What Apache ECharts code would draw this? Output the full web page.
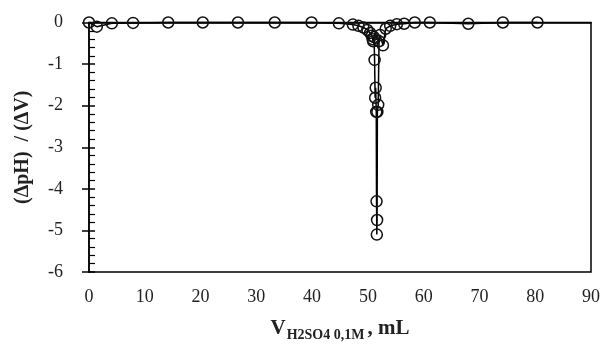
<!DOCTYPE html>
<html>
<head>
<meta charset="utf-8">
<script src="https://cdn.jsdelivr.net/npm/echarts@6/dist/echarts.min.js"></script>
<style>html,body{margin:0;padding:0;background:#fff;}#c{width:608px;height:347px;}</style>
</head>
<body>
<div id="c"></div>
<script>
const volume = [0, 1.4, 4.1, 7.9, 14.2, 20.4, 26.7, 33.3, 39.9, 44.8, 47.3, 48.3, 49.2, 49.9, 50.4, 50.7, 50.85, 50.95, 51.1, 51.2, 51.3, 51.4, 51.5, 51.55, 51.6, 51.65, 51.7, 51.85, 52.0, 52.2, 52.7, 53.2, 54.0, 55.2, 56.5, 58.4, 61.1, 68.0, 74.2, 80.4];
const dpHdV = [0, -0.1, -0.02, -0.01, 0, 0, 0, 0, 0, -0.02, -0.05, -0.08, -0.12, -0.18, -0.25, -0.32, -0.4, -0.45, -0.35, -0.9, -1.81, -1.57, -2.15, -4.3, -5.1, -4.75, -2.15, -1.98, -0.45, -0.3, -0.55, -0.15, -0.08, -0.04, -0.03, 0, 0, -0.03, 0, 0];
const xTicks = [0, 10, 20, 30, 40, 50, 60, 70, 80, 90];
const yTicks = [-6, -5, -4, -3, -2, -1, 0];

const chart = echarts.init(document.getElementById('c'));
const font = 'Liberation Serif';
chart.setOption({
  animation: false,
  grid: { left: 89, right: 17, top: 22.5, bottom: 74.5, show: true, borderColor: '#000', borderWidth: 1.5, backgroundColor: 'transparent' },
  xAxis: {
    type: 'value', min: xTicks[0], max: xTicks[xTicks.length - 1], interval: 10,
    axisLine: { show: true, lineStyle: { color: '#000', width: 1.5 } },
    axisTick: { show: false },
    splitLine: { show: false },
    axisLabel: { fontFamily: font, fontSize: 18, color: '#222', margin: 16 },
    name: '{a|V}{b|H2SO4 0,1M}{a|, mL}',
    nameLocation: 'middle', nameGap: 46,
    nameTextStyle: {
      rich: {
        a: { fontFamily: font, fontSize: 21, fontWeight: 'bold', color: '#222', verticalAlign: 'bottom' },
        b: { fontFamily: font, fontSize: 14, fontWeight: 'bold', color: '#222', verticalAlign: 'bottom', padding: [0, 3, -3, 1] }
      }
    }
  },
  yAxis: [{
    type: 'value', min: yTicks[0], max: yTicks[yTicks.length - 1], interval: 1,
    axisLine: { show: true, lineStyle: { color: '#000', width: 1.5 } },
    axisTick: { show: true, inside: true, length: 6, lineStyle: { color: '#000', width: 1.5 } },
    minorTick: { show: true, splitNumber: 5, length: 6, lineStyle: { color: '#000', width: 1.2 } },
    splitLine: { show: false },
    axisLabel: { fontFamily: font, fontSize: 18, color: '#222', margin: 26 },
    name: '(ΔpH)  / (ΔV)', nameLocation: 'middle', nameGap: 56, nameRotate: 90,
    nameTextStyle: { fontFamily: font, fontSize: 20, fontWeight: 'bold', color: '#222' }
  }, {
    type: 'value', min: yTicks[0], max: yTicks[yTicks.length - 1], interval: 1, position: 'left',
    axisLine: { show: false },
    axisTick: { show: true, inside: false, length: 7, lineStyle: { color: '#000', width: 1.5 } },
    axisLabel: { show: false },
    splitLine: { show: false }
  }],
  series: [{
    type: 'line',
    data: volume.map((v, i) => [v, dpHdV[i]]),
    yAxisIndex: 0,
    clip: false,
    symbol: 'circle', symbolSize: 11,
    itemStyle: { color: 'rgba(0,0,0,0)', borderColor: '#111', borderWidth: 1.5 },
    lineStyle: { color: '#000', width: 1.5 }
  }]
});
</script>
</body>
</html>
